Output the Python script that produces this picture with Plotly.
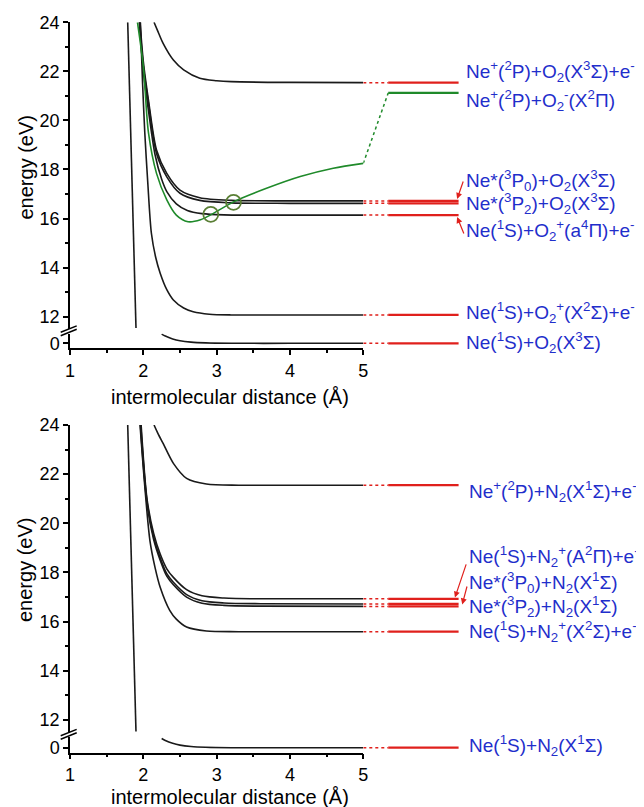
import plotly.graph_objects as go

# page is 644x807; the html body adds an 8 px margin, so the figure is drawn 8 px smaller
PAGE_W, PAGE_H = 644, 807
OFF = 8
W, H = PAGE_W - OFF, PAGE_H - OFF
ML_PAGE = 70                 # left edge of the plot area on the page (px)
ML = ML_PAGE - OFF
PW = W - ML

# ---------------- data: O2 panel (R in Angstrom, E in eV) ----------------
O2_REP_R = [1.787, 1.90]
O2_REP_E = [24.0, 11.54]
O2_ION_R = [2.146, 2.20, 2.27, 2.41, 2.55, 2.77, 3.0, 3.2, 4.0, 5.0]
O2_ION_E = [24.0, 23.62, 23.14, 22.46, 22.06, 21.72, 21.62, 21.58, 21.55, 21.54]
O2_P0_R = [1.955, 2.0, 2.07, 2.18, 2.32, 2.5, 2.77, 3.2, 4.0, 5.0]
O2_P0_E = [24.0, 22.4, 20.83, 18.79, 17.84, 17.16, 16.85, 16.74, 16.72, 16.72]
O2_P2_R = [1.95, 2.0, 2.07, 2.18, 2.32, 2.5, 2.77, 3.2, 4.0, 5.0]
O2_P2_E = [24.0, 22.2, 20.7, 18.65, 17.7, 17.03, 16.74, 16.64, 16.62, 16.62]
O2_A4_R = [1.945, 2.0, 2.07, 2.16, 2.25, 2.32, 2.45, 2.6, 2.8, 3.1, 4.0, 5.0]
O2_A4_E = [24.0, 22.0, 20.4, 18.6, 17.6, 17.1, 16.6, 16.33, 16.2, 16.15, 16.14, 16.14]
O2_X2_R = [1.96, 1.99, 2.02, 2.06, 2.11, 2.17, 2.23, 2.32, 2.41, 2.55, 2.68, 2.9, 3.2, 4.0, 5.0]
O2_X2_E = [24.0, 21.5, 19.5, 17.5, 15.4, 14.4, 13.77, 13.1, 12.68, 12.35, 12.2, 12.1, 12.07, 12.07, 12.07]
O2_ANION_R = [1.92, 2.0, 2.07, 2.18, 2.32, 2.45, 2.61, 2.78, 2.95, 3.23, 3.68, 4.14, 4.59, 5.0]
O2_ANION_E = [24.0, 22.2, 19.5, 17.84, 16.76, 16.14, 15.87, 15.95, 16.2, 16.68, 17.23, 17.71, 18.05, 18.25]
O2_GND_R = [2.25, 2.3, 2.4, 2.5, 2.65, 2.85, 3.2, 4.0, 5.0]
O2_GND_E = [0.46, 0.36, 0.22, 0.13, 0.06, 0.02, 0.0, 0.0, 0.0]
O2_CROSS_R = [2.92, 3.23]
O2_CROSS_E = [16.17, 16.66]
O2_LEVELS = [21.54, 16.72, 16.62, 16.14, 12.07]
O2_ANION_LEVEL = 21.12
O2_LABELS = [
    "Ne<sup>+</sup>(<sup>2</sup>P)+O<sub>2</sub>(X<sup>3</sup>Σ)+e<sup>-</sup>",
    "Ne<sup>+</sup>(<sup>2</sup>P)+O<sub>2</sub><sup>-</sup>(X<sup>2</sup>Π)",
    "Ne*(<sup>3</sup>P<sub>0</sub>)+O<sub>2</sub>(X<sup>3</sup>Σ)",
    "Ne*(<sup>3</sup>P<sub>2</sub>)+O<sub>2</sub>(X<sup>3</sup>Σ)",
    "Ne(<sup>1</sup>S)+O<sub>2</sub><sup>+</sup>(a<sup>4</sup>Π)+e<sup>-</sup>",
    "Ne(<sup>1</sup>S)+O<sub>2</sub><sup>+</sup>(X<sup>2</sup>Σ)+e<sup>-</sup>",
]
O2_GND_LABEL = "Ne(<sup>1</sup>S)+O<sub>2</sub>(X<sup>3</sup>Σ)"

# ---------------- data: N2 panel ----------------
N2_REP_R = [1.787, 1.90]
N2_REP_E = [24.0, 11.53]
N2_ION_R = [2.146, 2.20, 2.27, 2.41, 2.59, 2.86, 3.3, 4.0, 5.0]
N2_ION_E = [24.0, 23.65, 23.25, 22.44, 21.83, 21.6, 21.55, 21.55, 21.55]
N2_A2_R = [1.97, 2.05, 2.14, 2.23, 2.32, 2.41, 2.59, 2.8, 3.1, 3.6, 5.0]
N2_A2_E = [24.0, 21.0, 19.6, 18.75, 18.15, 17.8, 17.3, 17.05, 16.96, 16.93, 16.93]
N2_P0_R = [1.965, 2.05, 2.14, 2.23, 2.32, 2.41, 2.59, 2.8, 3.1, 3.6, 5.0]
N2_P0_E = [24.0, 20.9, 19.45, 18.6, 17.95, 17.6, 17.1, 16.85, 16.76, 16.73, 16.72]
N2_P2_R = [1.96, 2.05, 2.14, 2.23, 2.32, 2.41, 2.59, 2.8, 3.1, 3.6, 5.0]
N2_P2_E = [24.0, 20.8, 19.35, 18.5, 17.85, 17.5, 17.0, 16.75, 16.66, 16.63, 16.62]
N2_X2_R = [1.955, 2.02, 2.09, 2.16, 2.23, 2.36, 2.45, 2.59, 2.86, 3.3, 5.0]
N2_X2_E = [24.0, 21.5, 19.3, 18.2, 17.4, 16.46, 16.1, 15.78, 15.62, 15.59, 15.59]
N2_GND_R = [2.25, 2.3, 2.4, 2.5, 2.65, 2.85, 3.2, 4.0, 5.0]
N2_GND_E = [0.46, 0.36, 0.22, 0.13, 0.06, 0.02, 0.0, 0.0, 0.0]
N2_LEVELS = [21.55, 16.93, 16.72, 16.62, 15.59]
N2_LABELS = [
    "Ne<sup>+</sup>(<sup>2</sup>P)+N<sub>2</sub>(X<sup>1</sup>Σ)+e<sup>-</sup>",
    "Ne(<sup>1</sup>S)+N<sub>2</sub><sup>+</sup>(A<sup>2</sup>Π)+e<sup>-</sup>",
    "Ne*(<sup>3</sup>P<sub>0</sub>)+N<sub>2</sub>(X<sup>1</sup>Σ)",
    "Ne*(<sup>3</sup>P<sub>2</sub>)+N<sub>2</sub>(X<sup>1</sup>Σ)",
    "Ne(<sup>1</sup>S)+N<sub>2</sub><sup>+</sup>(X<sup>2</sup>Σ)+e<sup>-</sup>",
]
N2_GND_LABEL = "Ne(<sup>1</sup>S)+N<sub>2</sub>(X<sup>1</sup>Σ)"

X_TICKS = [1, 2, 3, 4, 5]
Y_TICKS = [12, 14, 16, 18, 20, 22, 24]

# ---------------- layout constants (page pixels) ----------------
PX_PER_R = 73.3
X5_PX = 363.3
DOT_END = 5.34
SOLID_END = 6.3
O2_LABEL_X = 6.38
N2_LABEL_X = 6.42
O2_LABEL_Y = [22.0, 20.83, 17.57, 16.63, 15.53, 12.17]
O2_GND_LABEL_Y = 0.065
N2_LABEL_Y = [21.29, 18.65, 17.59, 16.62, 15.6]
N2_GND_LABEL_Y = 0.11

BLACK = "#1a1a1a"
RED = "#e0201c"
GREEN = "#1f8a2a"
OLIVE = "#5a7f35"
BLUE = "#1f2ecb"
FONT = "Liberation Sans, Arial, sans-serif"


def px2paper_x(px):
    return (px - ML_PAGE) / PW


def px2paper_y(py):
    return 1 - (py - OFF) / H


def ydom(py_top, py_bot):
    return [px2paper_y(py_bot), px2paper_y(py_top)]


fig = go.Figure()

panels = [
    dict(top=22.3, ubot=329.0, ltop=333.5, zero=343.3, axis=348.3, s=24.53,
         xs="x", xr="x2", yu="y", yl="y2"),
    dict(top=425.0, ubot=733.0, ltop=737.0, zero=747.7, axis=752.5, s=24.58,
         xs="x3", xr="x4", yu="y3", yl="y4"),
]
LOW_S = 20.0

xmain_dom = [0, px2paper_x(X5_PX)]
xright_dom = [px2paper_x(X5_PX), 1]
xright_rng = [5, 5 + (PAGE_W - X5_PX) / PX_PER_R]

axis_common = dict(showline=True, linecolor="black", linewidth=1.5, ticks="outside",
                   ticklen=5, tickwidth=1.5, tickcolor="black", showgrid=False,
                   zeroline=False, automargin=False,
                   tickfont=dict(family=FONT, size=18, color="black"))

layout_axes = {}
for i, p in enumerate(panels):
    n = 2 * i
    xs_name = "xaxis" if n == 0 else f"xaxis{n + 1}"
    xr_name = f"xaxis{n + 2}"
    yu_name = "yaxis" if n == 0 else f"yaxis{n + 1}"
    yl_name = f"yaxis{n + 2}"
    layout_axes[xs_name] = dict(axis_common, domain=xmain_dom, range=[1, 5], anchor=p["yl"],
                                tickvals=X_TICKS,
                                minor=dict(dtick=0.5, tick0=1, ticks="outside", ticklen=3,
                                           tickwidth=1.5, tickcolor="black", showgrid=False))
    layout_axes[xr_name] = dict(domain=xright_dom, range=xright_rng, anchor=p["yu"],
                                visible=False, showgrid=False, zeroline=False, automargin=False)
    umin = 24 - (p["ubot"] - p["top"]) / p["s"]
    layout_axes[yu_name] = dict(axis_common, domain=ydom(p["top"], p["ubot"]), range=[umin, 24],
                                anchor=p["xs"], tickvals=Y_TICKS,
                                minor=dict(dtick=1, tick0=0, ticks="outside", ticklen=3,
                                           tickwidth=1.5, tickcolor="black", showgrid=False))
    lmin = -(p["axis"] - p["zero"]) / LOW_S
    lmax = (p["zero"] - p["ltop"]) / LOW_S
    layout_axes[yl_name] = dict(axis_common, domain=ydom(p["ltop"], p["axis"]), range=[lmin, lmax],
                                anchor=p["xs"], tickvals=[0])


def curve(r, e, xa, ya, color=BLACK, width=1.6, dash="solid", shape="spline"):
    fig.add_trace(go.Scatter(x=r, y=e, xaxis=xa, yaxis=ya, mode="lines",
                             line=dict(color=color, width=width, dash=dash, shape=shape,
                                       smoothing=0.8 if shape == "spline" else None),
                             hoverinfo="skip", showlegend=False))


def right_level(level, xa, ya, color):
    curve([5, DOT_END], [level, level], xa, ya, color=color, width=1.5, dash="dot", shape="linear")
    curve([DOT_END, SOLID_END], [level, level], xa, ya, color=color, width=2.2, shape="linear")


# ---- O2 panel traces ----
P = panels[0]
curve(O2_REP_R, O2_REP_E, P["xs"], P["yu"], shape="linear")
for r, e in [(O2_ION_R, O2_ION_E), (O2_P0_R, O2_P0_E), (O2_P2_R, O2_P2_E),
             (O2_A4_R, O2_A4_E), (O2_X2_R, O2_X2_E)]:
    curve(r, e, P["xs"], P["yu"])
curve(O2_ANION_R, O2_ANION_E, P["xs"], P["yu"], color=GREEN)
curve(O2_GND_R, O2_GND_E, P["xs"], P["yl"])
fig.add_trace(go.Scatter(x=O2_CROSS_R, y=O2_CROSS_E, xaxis=P["xs"], yaxis=P["yu"], mode="markers",
                         marker=dict(symbol="circle-open", size=15, color=OLIVE,
                                     line=dict(width=1.8, color=OLIVE)),
                         hoverinfo="skip", showlegend=False))
for lv in O2_LEVELS:
    right_level(lv, P["xr"], P["yu"], RED)
right_level(0, P["xr"], P["yl"], RED)
curve([5, DOT_END], [O2_ANION_E[-1], O2_ANION_LEVEL], P["xr"], P["yu"], color=GREEN, width=1.5,
      dash="dot", shape="linear")
curve([DOT_END, SOLID_END], [O2_ANION_LEVEL, O2_ANION_LEVEL], P["xr"], P["yu"], color=GREEN,
      width=2.2, shape="linear")

# ---- N2 panel traces ----
P = panels[1]
curve(N2_REP_R, N2_REP_E, P["xs"], P["yu"], shape="linear")
for r, e in [(N2_ION_R, N2_ION_E), (N2_A2_R, N2_A2_E), (N2_P0_R, N2_P0_E),
             (N2_P2_R, N2_P2_E), (N2_X2_R, N2_X2_E)]:
    curve(r, e, P["xs"], P["yu"])
curve(N2_GND_R, N2_GND_E, P["xs"], P["yl"])
for lv in N2_LEVELS:
    right_level(lv, P["xr"], P["yu"], RED)
right_level(0, P["xr"], P["yl"], RED)

# ---- annotations ----
LABEL_FONT = dict(family=FONT, size=19, color=BLUE)
ann = []
label_sets = [(O2_LABELS, O2_LABEL_Y, O2_LABEL_X, "x2", "y"),
              ([O2_GND_LABEL], [O2_GND_LABEL_Y], O2_LABEL_X, "x2", "y2"),
              (N2_LABELS, N2_LABEL_Y, N2_LABEL_X, "x4", "y3"),
              ([N2_GND_LABEL], [N2_GND_LABEL_Y], N2_LABEL_X, "x4", "y4")]
for texts, ys, xv, xa, ya in label_sets:
    for txt, yv in zip(texts, ys):
        ann.append(dict(text=txt, x=xv, y=yv, xref=xa, yref=ya, xanchor="left",
                        yanchor="middle", showarrow=False, font=LABEL_FONT))

# arrows (head x, head y, tail x, tail y)
O2_ARROWS = [(6.28, 16.80, 6.37, 17.57), (6.28, 16.06, 6.38, 15.33)]
N2_ARROWS = [(6.25, 16.98, 6.41, 18.39), (6.35, 16.70, 6.42, 17.49)]
for (hx, hy, tx, ty), (xa, ya) in ([(a, ("x2", "y")) for a in O2_ARROWS] +
                                  [(a, ("x4", "y3")) for a in N2_ARROWS]):
    ann.append(dict(x=hx, y=hy, ax=tx, ay=ty, xref=xa, yref=ya, axref=xa, ayref=ya,
                    text="", showarrow=True, arrowhead=2, arrowsize=1, arrowwidth=1.2,
                    arrowcolor=RED))

for xt_py, yt_py in [(397, 167.5), (797, 570)]:
    ann.append(dict(text="intermolecular distance (Å)", x=px2paper_x(229.5), y=px2paper_y(xt_py),
                    xref="paper", yref="paper", xanchor="center", yanchor="middle",
                    showarrow=False, font=dict(family=FONT, size=20, color="black")))
    ann.append(dict(text="energy (eV)", x=px2paper_x(25), y=px2paper_y(yt_py), textangle=-90,
                    xref="paper", yref="paper", xanchor="center", yanchor="middle",
                    showarrow=False, font=dict(family=FONT, size=20, color="black")))

# axis break marks
shapes = []
for p in panels:
    for dy in (0.0, 3.4):
        shapes.append(dict(type="line", xref="paper", yref="paper",
                           x0=px2paper_x(60.7), y0=px2paper_y(p["ltop"] - 1.2 + dy),
                           x1=px2paper_x(76.7), y1=px2paper_y(p["ltop"] - 7.6 + dy),
                           line=dict(color="black", width=1.5)))

fig.update_layout(template="none", width=W, height=H, autosize=False,
                  margin=dict(l=ML, r=0, t=0, b=0, pad=0),
                  paper_bgcolor="white", plot_bgcolor="white",
                  font=dict(family=FONT, color="black"),
                  showlegend=False, annotations=ann, shapes=shapes, **layout_axes)

fig.write_html("out.html")
